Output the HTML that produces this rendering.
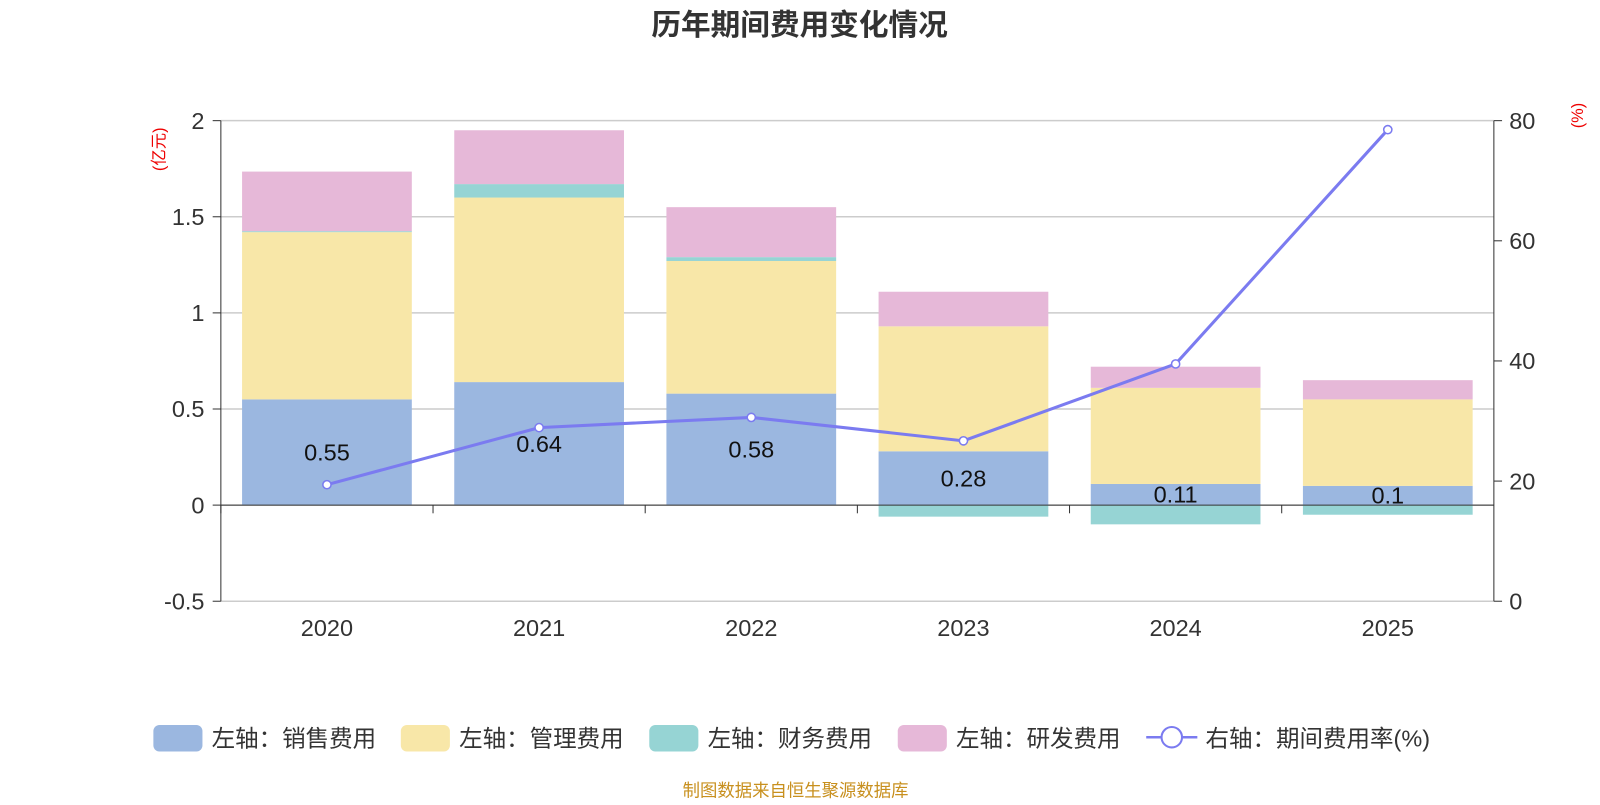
<!DOCTYPE html>
<html><head><meta charset="utf-8">
<style>
body{margin:0;background:#fff;font-family:"Liberation Sans","Noto Sans CJK SC",sans-serif;}
svg text{font-family:"Liberation Sans","Noto Sans CJK SC",sans-serif;}
</style></head>
<body>
<svg id="c" width="1600" height="800" xmlns="http://www.w3.org/2000/svg">
<g transform="scale(1.0225)">
<text x="782" y="34" text-anchor="middle" font-size="29" font-weight="bold" fill="#333">历年期间费用变化情况</text>
<text transform="translate(161,146) rotate(-90)" text-anchor="middle" font-size="16" fill="#e00">(亿元)</text>
<text transform="translate(1548,113) rotate(-90)" text-anchor="middle" font-size="16" fill="#e00">(%)</text>
<g id="grid"></g><g id="bars"></g><g id="axes"></g><g id="line"></g>
<g id="legend" font-size="23" fill="#333">
<rect x="150" y="709" width="48" height="26" rx="6" fill="#9bb7e0"/>
<text x="207" y="730">左轴：销售费用</text>
<rect x="392" y="709" width="48" height="26" rx="6" fill="#f8e7a8"/>
<text x="449" y="730">左轴：管理费用</text>
<rect x="635" y="709" width="48" height="26" rx="6" fill="#96d4d4"/>
<text x="692" y="730">左轴：财务费用</text>
<rect x="878" y="709" width="48" height="26" rx="6" fill="#e6b8d8"/>
<text x="935" y="730">左轴：研发费用</text>
<line x1="1121" y1="721" x2="1171" y2="721" stroke="#7b7bf0" stroke-width="2.5"/>
<circle cx="1146" cy="721" r="10" fill="#fff" stroke="#7b7bf0" stroke-width="2"/>
<text x="1179" y="730">右轴：期间费用率(%)</text>
</g>
<text x="778" y="779" text-anchor="middle" font-size="17" fill="#c8901e">制图数据来自恒生聚源数据库</text>
</g>
</svg>
<script>
const years=["2020","2021","2022","2023","2024","2025"];
const sales=[0.55,0.64,0.58,0.28,0.11,0.1];
const admin=[0.87,0.96,0.69,0.65,0.50,0.45];
const finance=[0.005,0.07,0.02,-0.06,-0.10,-0.05];
const rd=[0.31,0.28,0.26,0.18,0.11,0.10];
const rate=[19.4,28.9,30.6,26.7,39.5,78.5];
const leftTicks=[-0.5,0,0.5,1,1.5,2];
const rightTicks=[0,20,40,60,80];
const NS="http://www.w3.org/2000/svg";
const X0=216,X1=1461,bw=(X1-X0)/years.length;
const yL=v=>494-v*188;
const yR=v=>588-v*(470/80);
const xC=i=>X0+bw*(i+0.5);
function mk(p,t,a){const e=document.createElementNS(NS,t);for(const k in a)e.setAttribute(k,a[k]);document.getElementById(p).appendChild(e);return e;}
leftTicks.forEach(t=>{
 const g=mk('grid','line',{x1:X0,x2:X1,y1:yL(t),y2:yL(t),stroke:'#ccc','stroke-width':1.5});
 
 
 const tx=mk('axes','text',{x:200,y:yL(t)+8,'text-anchor':'end','font-size':23,fill:'#333'});tx.textContent=t;
 
 
 mk('axes','line',{x1:208,x2:X0,y1:yL(t),y2:yL(t),stroke:'#333'});
});
rightTicks.forEach(t=>{
 const tx=mk('axes','text',{x:1476,y:yR(t)+8,'font-size':23,fill:'#333'});tx.textContent=t;
 
 
 mk('axes','line',{x1:1461,x2:1469,y1:yR(t),y2:yR(t),stroke:'#333'});
});
mk('axes','line',{x1:X0,x2:X0,y1:118,y2:588,stroke:'#333'});
mk('axes','line',{x1:X1,x2:X1,y1:118,y2:588,stroke:'#333'});
mk('axes','line',{x1:X0,x2:X1,y1:yL(0),y2:yL(0),stroke:'#333'});
years.forEach((y,i)=>{
 const tx=mk('axes','text',{x:xC(i),y:622,'text-anchor':'middle','font-size':23,fill:'#333'});tx.textContent=y;
 
 
 mk('axes','line',{x1:X0+bw*i,x2:X0+bw*i,y1:494,y2:502,stroke:'#333'});
 const w=166,x=xC(i)-w/2;
 let pos=0,neg=0;
 [[sales,'#9bb7e0','bar-sales'],[admin,'#f8e7a8','bar-admin'],[finance,'#96d4d4','bar-finance'],[rd,'#e6b8d8','bar-rd']].forEach(([arr,col,nm])=>{
  const v=arr[i];let a,b;
  if(v>=0){a=pos;b=pos+v;pos=b;}else{a=neg;b=neg+v;neg=b;}
  const r=mk('bars','rect',{x:x,width:w,y:Math.min(yL(a),yL(b)),height:Math.abs(yL(a)-yL(b)),fill:col});
  
  
 });
 const lb=mk('bars','text',{x:xC(i),y:(yL(0)+yL(sales[i]))/2+8,'text-anchor':'middle','font-size':23,fill:'#111'});lb.textContent=sales[i];
 
 
});
const pl=mk('line','polyline',{points:rate.map((v,i)=>xC(i)+','+yR(v)).join(' '),fill:'none',stroke:'#7b7bf0','stroke-width':3});


rate.forEach((v,i)=>{
 const c=mk('line','circle',{cx:xC(i),cy:yR(v),r:4,fill:'#fff',stroke:'#7b7bf0','stroke-width':1.5});
 
 
});
</script>
</body></html>
